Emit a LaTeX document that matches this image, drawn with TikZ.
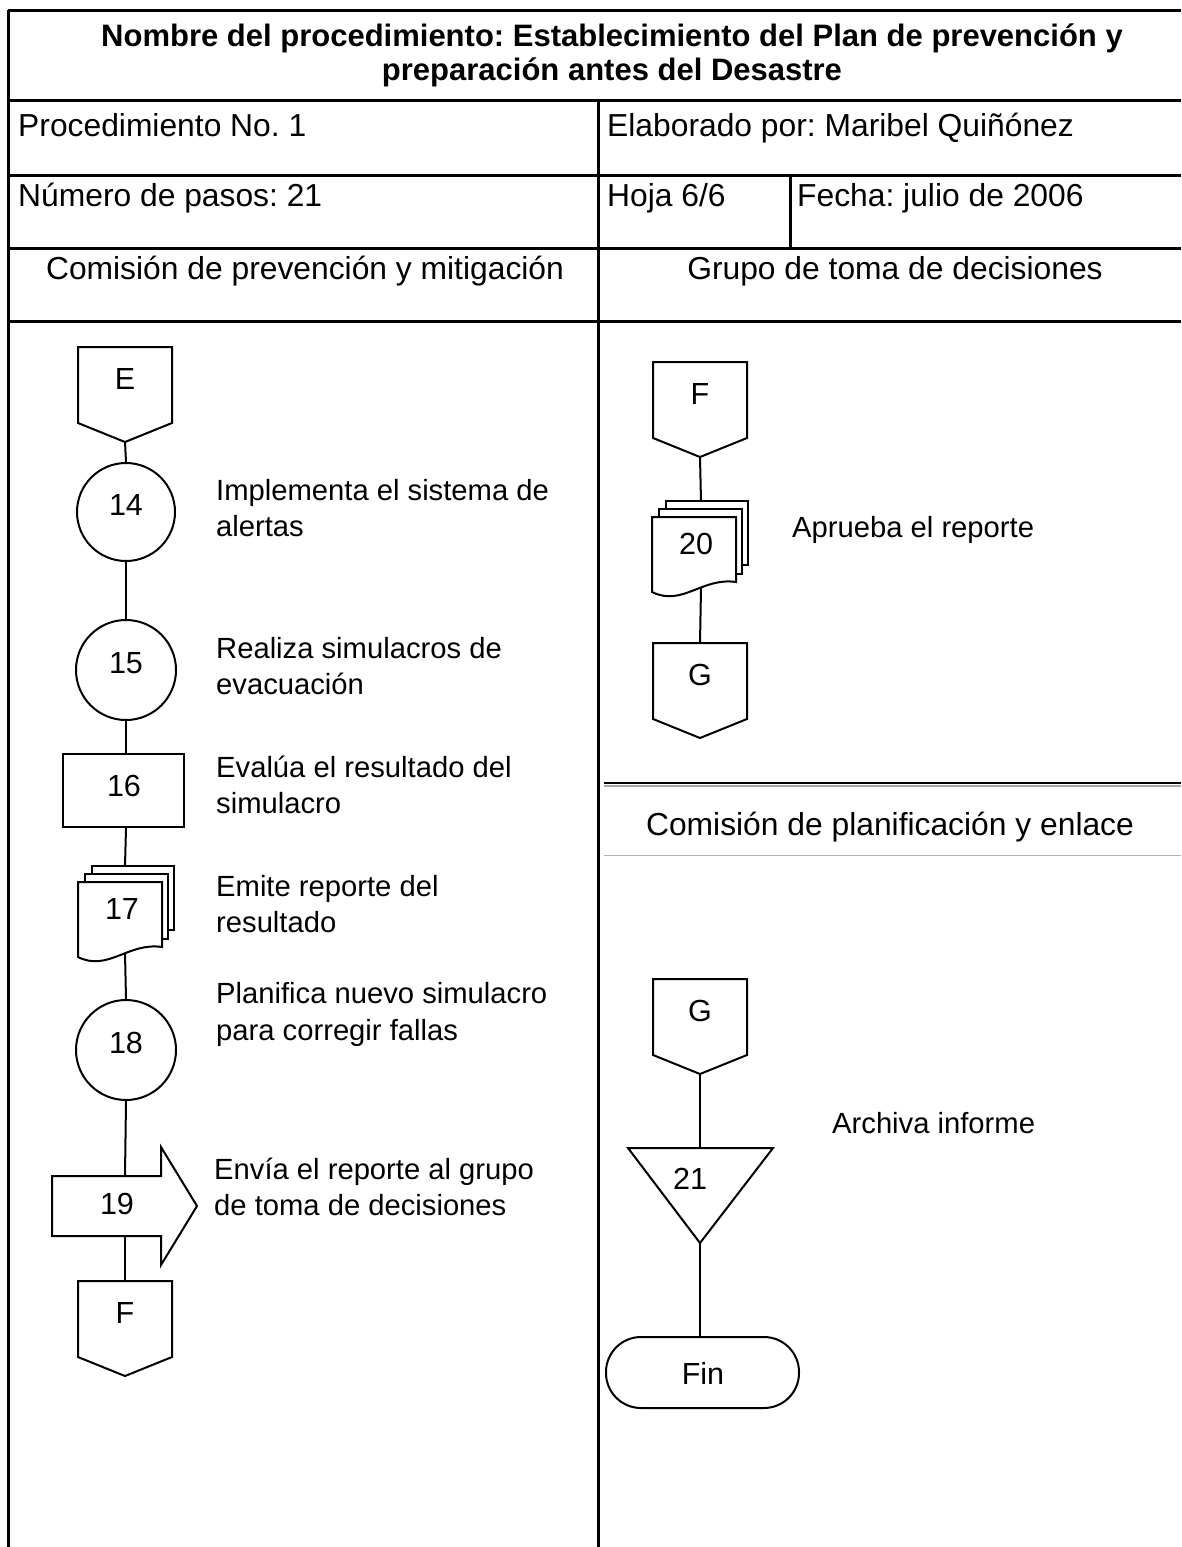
\documentclass[tikz,border=0pt]{standalone}
\usepackage{fontspec}
\setmainfont{Liberation Sans}
\frenchspacing
\tikzset{
  frame/.style={line width=3pt},
  shp/.style={draw, line width=2pt, fill=white, line join=miter},
  conn/.style={line width=2pt},
  hdr/.style={font=\fontsize{31.8}{36}\selectfont, inner sep=0pt},
  ttl/.style={font=\bfseries\fontsize{31}{36}\selectfont, inner sep=0pt, anchor=base},
  lbl/.style={font=\fontsize{29.2}{36}\selectfont, inner sep=0pt, anchor=base west},
  num/.style={font=\fontsize{30.5}{34}\selectfont, inner sep=0pt, anchor=base},
}
\newcommand{\offpg}[4]{%
  \draw[shp] (#2-47,#3) -- (#2+47,#3) -- (#2+47,#3+76) -- (#2,#3+95) -- (#2-47,#3+76) -- cycle;
  \node[num] (#1) at (#2,#3+42) {#4};
  \coordinate (#1t) at (#2,#3);
  \coordinate (#1b) at (#2,#3+95);
}
\newcommand{\docs}[5]{%
  \draw[shp] (#2+14,#3-16) rectangle (#2+96,#3+48);
  \draw[shp] (#2+7,#3-8) rectangle (#2+90,#3+57);
  \draw[shp] (#2,#3) -- (#2+84,#3) -- (#2+84,#3+65) .. controls (#2+50,#3+60) and (#2+30,#3+90) .. (#2,#3+75) -- cycle;
  \node[num] (#1) at (#2+44,#3+37) {#4};
  \coordinate (#1t) at (#5,#3-16);
  \coordinate (#1b) at (#5,#3+71);
}
\begin{document}
\frenchspacing
\begin{tikzpicture}[x=1pt,y=-1pt]
\useasboundingbox[fill=white] (0,0) rectangle (1181,1547);

% table frame
\draw[frame] (8,10) -- (1181,10);
\draw[frame] (8,10) -- (8,1547);
\draw[frame] (8,100) -- (1181,100);
\draw[frame] (8,175) -- (1181,175);
\draw[frame] (8,248) -- (1181,248);
\draw[frame] (8,321) -- (1181,321);
\draw[frame] (598,100) -- (598,1547);
\draw[frame] (790,175) -- (790,248);

% header texts
\node[ttl] (title1) at (612,46) {Nombre del procedimiento: Establecimiento del Plan de prevención y};
\node[ttl] (title2) at (612,80) {preparación antes del Desastre};
\node[hdr, anchor=base west] (proc) at (18,136) {Procedimiento No. 1};
\node[hdr, anchor=base west] (elab) at (607,136) {Elaborado por: Maribel Quiñónez};
\node[hdr, anchor=base west] (pasos) at (18,206) {Número de pasos: 21};
\node[hdr, anchor=base west] (hoja) at (607,206) {Hoja 6/6};
\node[hdr, anchor=base west] (fecha) at (797,206) {Fecha: julio de 2006};
\node[hdr, anchor=base] (lane1) at (305,279) {Comisión de prevención y mitigación};
\node[hdr, anchor=base] (lane2) at (895,279) {Grupo de toma de decisiones};

% lower right lane separator
\draw[line width=2pt, black!35] (604,785.5) -- (1181,785.5);
\draw[line width=2.5pt] (604,783) -- (1181,783);
\node[hdr, anchor=base] (lane3) at (890,835) {Comisión de planificación y enlace};
\draw[line width=1pt, black!30] (604,855) -- (1181,855);

% ---------- left lane ----------
\offpg{E}{125}{347}{E}
\node[shp, circle, minimum size=98pt, inner sep=0pt] (c14) at (126,512) {};
\node[num] (n14) at (126,515) {14};
\node[shp, circle, minimum size=100pt, inner sep=0pt] (c15) at (126,670) {};
\node[num] (n15) at (126,673) {15};
\node[shp, minimum width=121pt, minimum height=73pt, inner sep=0pt] (r16) at (123.5,790.5) {};
\node[num] (n16) at (124,796) {16};
\docs{d17}{78}{882}{17}{125}
\node[shp, circle, minimum size=100pt, inner sep=0pt] (c18) at (126,1050) {};
\node[num] (n18) at (126,1053) {18};
\draw[shp] (52,1176) -- (161,1176) -- (161,1147) -- (197,1206) -- (161,1265) -- (161,1236) -- (52,1236) -- cycle;
\coordinate (a19t) at (125,1176);
\coordinate (a19b) at (125,1236);
\node[num] (n19) at (117,1214) {19};
\offpg{F1}{125}{1281}{F}

\draw[conn] (Eb) -- (c14.north);
\draw[conn] (c14.south) -- (c15.north);
\draw[conn] (c15.south) -- (c15.south |- r16.north);
\draw[conn] (c15.south |- r16.south) -- (d17t);
\draw[conn] (d17b) -- (c18.north);
\draw[conn] (c18.south) -- (a19t);
\draw[conn] (a19b) -- (F1t);

\node[lbl] (l14a) at (216,500) {Implementa el sistema de};
\node[lbl] (l14b) at (216,536) {alertas};
\node[lbl] (l15a) at (216,658) {Realiza simulacros de};
\node[lbl] (l15b) at (216,694) {evacuación};
\node[lbl] (l16a) at (216,777) {Evalúa el resultado del};
\node[lbl] (l16b) at (216,813) {simulacro};
\node[lbl] (l17a) at (216,896) {Emite reporte del};
\node[lbl] (l17b) at (216,932) {resultado};
\node[lbl] (l18a) at (216,1003) {Planifica nuevo simulacro};
\node[lbl] (l18b) at (216,1040) {para corregir fallas};
\node[lbl] (l19a) at (214,1179) {Envía el reporte al grupo};
\node[lbl] (l19b) at (214,1215) {de toma de decisiones};

% ---------- right lane ----------
\offpg{F2}{700}{362}{F}
\docs{d20}{652}{517}{20}{701}
\offpg{G1}{700}{643}{G}
\draw[conn] (F2b) -- (d20t);
\draw[conn] (d20b) -- (G1t);
\node[lbl] (l20) at (792,537) {Aprueba el reporte};

\offpg{G2}{700}{979}{G}
\draw[shp] (628,1148) -- (773,1148) -- (700,1243) -- cycle;
\coordinate (t21t) at (700,1148);
\coordinate (t21b) at (700,1243);
\node[num] (n21) at (690,1189) {21};
\node[shp, rounded corners=35pt, minimum width=193pt, minimum height=71pt, inner sep=0pt] (fin) at (702.5,1372.5) {};
\node[num] (nfin) at (703,1384) {Fin};
\draw[conn] (G2b) -- (t21t);
\draw[conn] (t21b) -- (fin.north -| t21b);
\node[lbl] (l21) at (832,1133) {Archiva informe};
\end{tikzpicture}
\end{document}
